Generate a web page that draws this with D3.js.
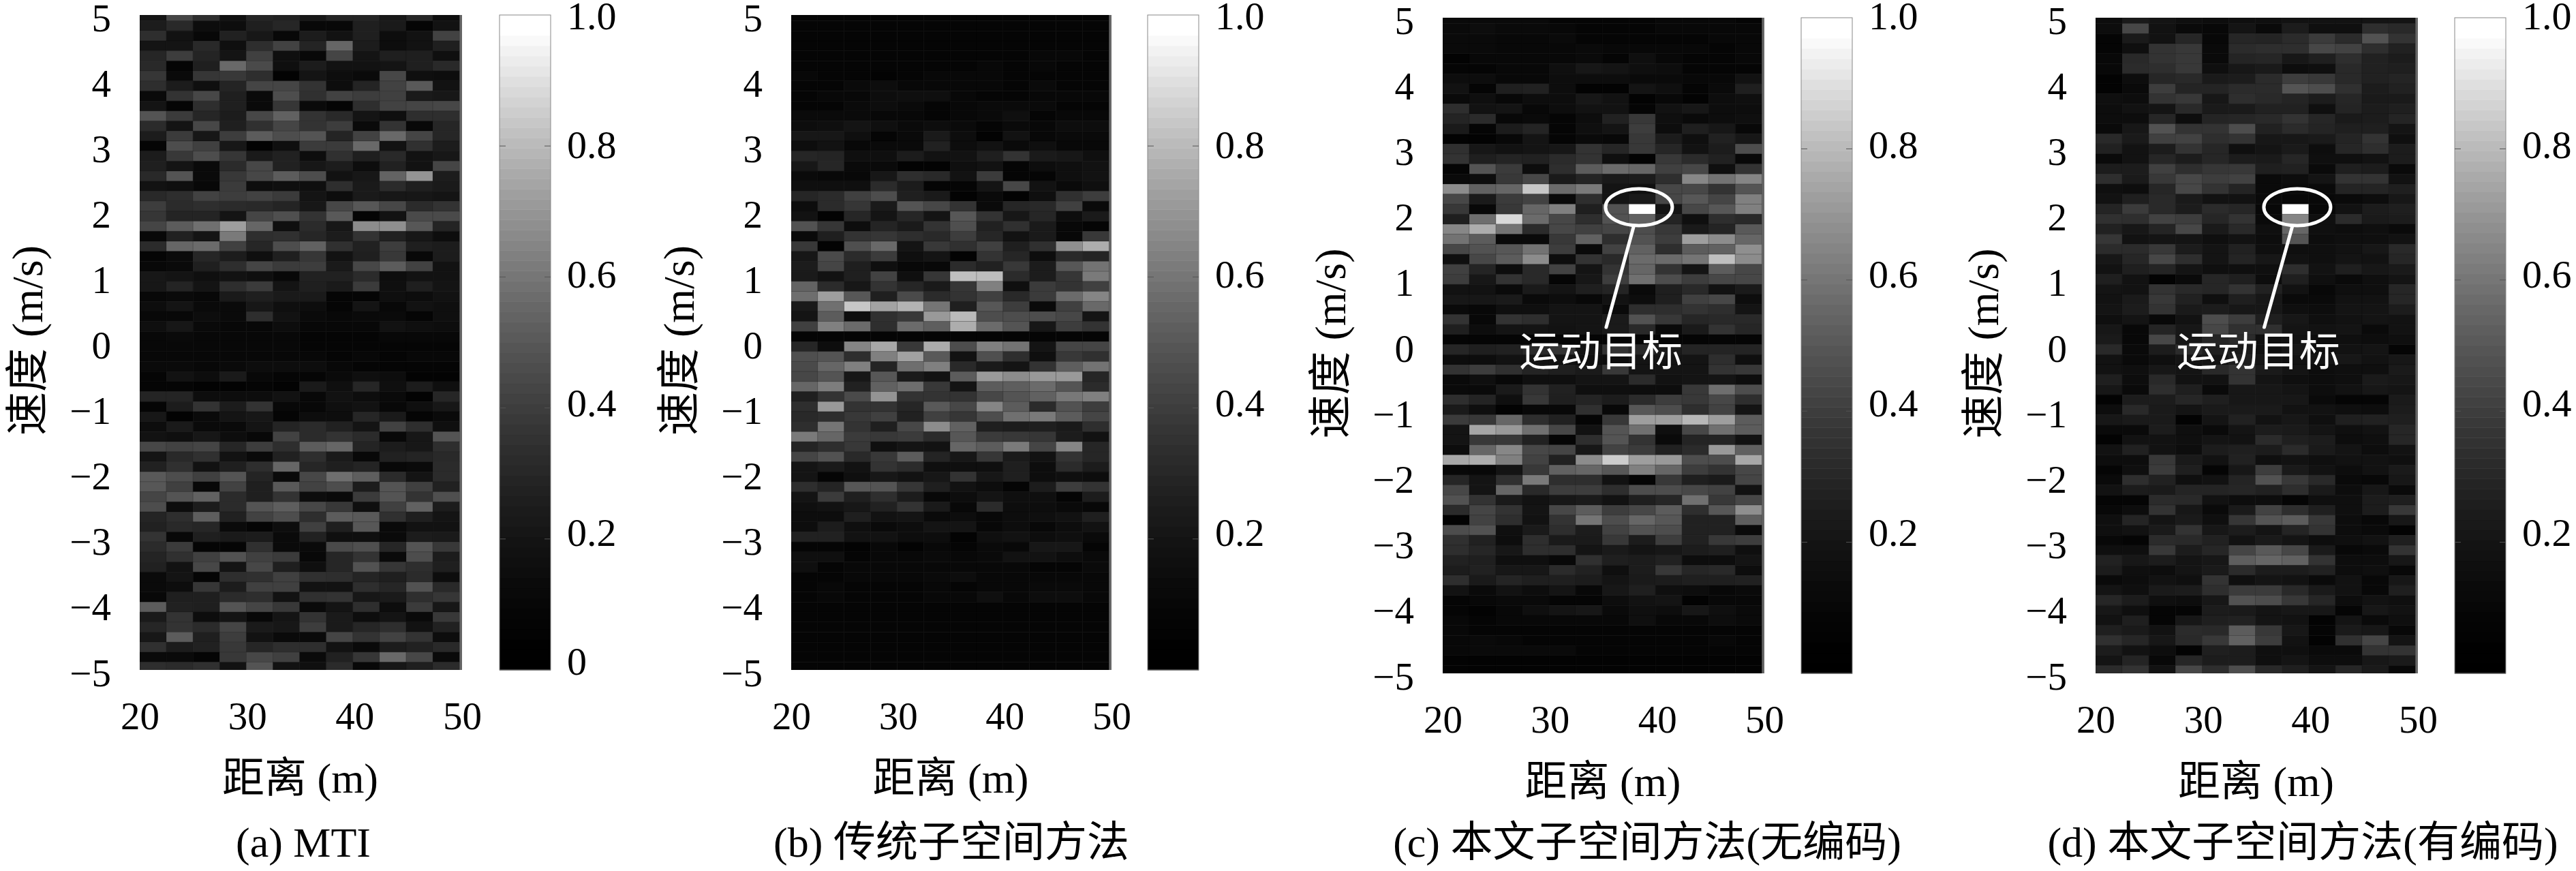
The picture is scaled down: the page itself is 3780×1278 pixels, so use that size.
<!DOCTYPE html>
<html>
<head>
<meta charset="utf-8">
<script src="https://cdn.jsdelivr.net/npm/d3@7"></script>
<style>
    body { margin: 0; background: #fff; }
    text { font-family: "Liberation Serif", "Noto Sans CJK SC", serif; fill: #000; }
</style>
</head>
<body>
<script>
// brightness of each cell in percent, top row first
const mtiRows = [
    [8,27,18,6,14,13,9,14,14,9,15,5],[11,16,5,5,12,15,3,3,12,10,2,7],[18,7,3,13,9,3,11,7,12,5,7,26],
    [8,8,16,6,18,26,14,40,11,5,7,12],[15,24,14,8,25,6,3,27,8,12,12,6],[16,2,12,41,29,6,11,7,7,8,12,16],
    [21,4,21,22,18,1,8,5,4,28,6,5],[18,11,6,14,27,27,20,5,14,26,35,7],[4,20,28,12,4,30,19,26,24,25,10,9],
    [8,2,18,12,4,21,4,2,18,26,27,28],[33,23,15,11,28,38,20,16,8,6,18,18],[17,8,28,12,19,27,20,24,4,20,3,15],
    [11,23,9,24,36,30,33,14,26,41,27,15],[2,30,25,9,1,6,23,23,41,7,19,11],[11,22,30,21,10,13,5,19,12,16,7,9],
    [12,8,4,17,28,13,9,11,5,13,7,27],[16,33,4,22,28,36,30,7,9,39,58,11],[7,6,3,23,5,6,6,18,10,17,12,10],
    [16,18,26,24,26,23,8,5,10,9,9,8],[24,17,18,17,16,14,9,28,34,28,17,20],[21,14,14,8,27,31,20,35,2,7,29,29],
    [27,36,44,62,40,6,17,9,55,56,34,14],[3,13,8,48,18,19,15,11,20,13,9,5],[17,40,42,25,15,30,38,19,13,24,12,11],
    [2,4,15,11,6,12,21,7,12,22,3,11],[3,4,12,18,27,23,24,10,28,36,26,7],[9,8,6,7,6,3,13,13,17,5,7,7],
    [9,14,8,18,23,8,12,10,23,6,12,8],[3,4,3,10,12,10,10,2,2,6,5,7],[5,8,4,4,9,6,5,2,8,3,7,6],
    [3,3,5,4,18,7,4,3,4,4,2,6],[6,9,4,3,3,5,3,3,3,7,6,5],[3,4,3,3,3,3,2,2,2,3,3,3],
    [3,3,3,3,3,3,2,2,2,2,2,2],[3,3,3,3,3,3,3,2,3,2,3,3],[4,4,3,4,5,5,5,3,2,2,2,2],
    [2,7,5,10,3,2,2,4,6,5,1,1],[2,2,1,1,2,1,10,6,15,6,11,6],[14,14,5,5,5,7,3,7,5,4,1,15],
    [2,11,20,11,20,3,3,6,7,3,6,9],[9,1,4,8,9,2,5,5,15,10,2,4],[5,10,4,4,8,14,17,13,8,26,18,6],
    [7,6,9,5,3,26,17,20,17,3,9,33],[28,26,27,15,24,18,36,40,14,11,9,18],[8,16,19,7,4,13,18,10,3,13,14,16],
    [13,19,7,12,18,40,15,12,14,3,4,17],[35,30,25,33,14,4,28,43,37,17,8,17],[34,25,3,26,12,35,26,30,11,33,25,13],
    [27,33,38,17,12,20,5,4,23,33,20,31],[30,5,11,17,33,37,28,22,6,25,38,11],[14,18,37,13,26,30,18,36,35,19,12,8],
    [13,16,15,4,2,5,25,12,34,4,7,7],[20,3,12,10,11,4,13,6,6,4,11,10],[17,23,2,2,19,4,4,29,31,15,33,22],
    [14,19,25,32,25,23,3,15,20,4,30,11],[13,7,28,8,28,12,6,15,32,21,18,12],[4,8,2,18,19,25,19,18,14,12,17,5],
    [4,5,21,11,25,25,7,7,18,15,32,16],[3,12,12,17,18,7,19,20,9,10,18,21],[36,13,12,33,27,22,4,8,18,5,23,9],
    [10,20,5,8,3,8,20,10,5,8,4,22],[15,20,17,27,10,9,24,10,15,18,7,13],[9,36,12,24,7,4,4,27,20,26,20,5],
    [19,11,13,22,15,18,18,7,4,11,13,16],[4,4,2,22,28,25,4,13,21,41,28,4],[18,17,19,7,33,7,6,17,3,9,12,17]
];

const traditionalRows = [
    [2,2,2,2,2,2,2,2,2,2,2,2],[2,2,2,2,2,2,2,2,2,2,2,2],[2,2,2,2,2,2,2,2,2,2,2,2],
    [2,2,2,2,2,2,2,2,2,2,2,2],[2,2,2,2,2,2,2,2,2,3,3,2],[2,2,2,2,2,2,2,3,2,3,2,2],
    [3,2,2,1,2,3,3,3,2,2,2,2],[2,2,4,5,3,3,3,3,2,4,2,2],[2,3,3,5,6,6,3,2,2,3,3,3],
    [2,2,4,5,4,2,3,4,4,4,2,2],[4,4,4,3,3,2,3,4,6,2,3,3],[5,6,8,6,4,5,4,2,4,3,5,5],
    [9,9,6,2,4,10,5,1,7,3,4,4],[5,7,3,4,4,13,5,7,4,6,3,3],[15,14,6,6,11,7,7,12,20,10,9,6],
    [9,15,4,4,1,1,6,7,2,5,6,7],[4,3,3,9,18,16,7,23,2,2,6,7],[6,6,6,17,11,2,2,8,28,7,4,6],
    [15,17,25,30,12,10,1,4,1,6,19,24],[5,17,21,10,33,28,20,4,15,16,25,4],[7,1,15,8,15,8,34,20,9,15,5,10],
    [32,21,5,14,10,20,31,13,19,10,3,2],[4,12,20,21,18,16,24,15,7,10,3,22],[22,1,31,41,8,22,19,25,12,19,56,68],
    [9,29,17,23,6,8,1,20,15,5,16,14],[11,27,12,6,3,3,17,13,22,11,34,45],[10,7,12,26,6,21,75,74,17,11,21,48],
    [39,17,9,20,15,10,21,50,6,23,20,25],[43,62,34,12,29,17,20,25,16,23,42,52],[10,44,78,64,70,46,12,34,24,4,25,41],
    [8,36,5,19,22,60,73,30,30,30,28,8],[25,50,42,18,42,37,68,42,33,9,24,20],[2,2,2,2,2,2,2,2,2,2,2,2],
    [15,5,52,66,22,67,30,50,45,8,27,27],[31,33,18,50,63,35,7,31,18,6,22,19],[29,40,50,14,43,50,16,10,8,20,37,45],
    [28,33,9,34,10,7,36,60,55,60,60,15],[40,49,13,38,43,22,8,36,37,42,33,17],[12,20,29,58,20,20,20,28,33,38,47,50],
    [18,60,20,20,15,35,28,52,36,17,32,24],[16,18,22,25,13,25,21,30,44,48,36,27],[18,46,20,12,28,55,38,12,11,12,10,18],
    [48,40,23,22,23,17,34,23,22,21,11,7],[14,18,22,6,8,7,40,36,48,27,52,15],[27,32,16,22,36,14,9,21,10,7,20,15],
    [8,10,7,20,17,6,6,6,12,5,17,11],[8,2,6,9,7,9,20,9,12,5,6,5],[18,14,34,33,21,12,7,5,2,11,24,20],
    [8,23,12,18,11,3,5,8,6,6,2,11],[6,7,9,13,20,10,3,17,5,5,4,3],[5,5,12,7,8,4,5,3,5,6,7,12],
    [5,11,6,4,5,8,8,3,5,3,5,7],[13,13,7,7,5,5,1,6,7,5,6,4],[2,2,1,3,1,3,2,4,3,9,9,2],
    [6,6,2,3,3,4,3,4,7,7,5,4],[6,2,3,3,3,3,3,3,3,2,2,4],[2,2,3,3,3,4,5,3,3,3,3,3],
    [2,3,2,2,2,3,2,3,3,4,4,3],[2,3,2,2,2,3,3,6,3,5,5,3],[2,2,2,2,2,2,2,2,2,2,2,2],
    [2,2,2,2,2,2,2,2,2,2,2,2],[2,2,2,2,2,2,2,2,2,2,2,2],[2,2,2,2,2,2,2,2,2,2,2,2],
    [2,2,2,2,2,2,2,2,2,2,2,2],[2,2,2,2,2,2,2,2,2,2,2,2],[2,2,2,2,2,2,2,2,2,2,2,2]
];

const uncodedRows = [
    [4,4,4,4,2,2,2,2,3,3,3,2],[4,5,4,4,3,2,2,2,3,3,3,3],[4,4,3,3,4,2,2,2,2,2,3,3],
    [4,4,3,3,3,4,3,3,3,3,2,3],[1,3,3,3,3,4,2,6,3,2,2,3],[2,2,3,3,6,9,8,6,5,2,2,2],
    [5,5,3,3,5,5,5,4,4,3,3,7],[7,2,12,13,5,1,1,8,6,2,4,12],[4,6,3,5,5,9,7,1,3,1,5,6],
    [18,7,8,3,5,7,7,2,7,9,5,5],[14,17,3,4,2,5,13,22,6,4,5,6],[10,2,11,14,2,6,8,24,5,12,9,3],
    [1,1,3,8,2,4,3,22,11,6,13,9],[19,9,7,8,9,20,15,22,15,7,11,30],[20,12,14,13,17,20,6,1,22,17,13,3],
    [2,33,23,5,18,36,42,40,25,28,6,20],[4,5,22,28,10,14,10,11,18,53,45,52],[55,38,40,78,42,48,8,6,28,28,20,33],
    [28,10,23,26,4,18,8,10,28,34,27,50],[22,3,22,40,50,12,32,100,8,28,34,50],[12,43,85,42,28,18,32,38,14,6,18,16],
    [53,68,45,17,28,25,27,30,22,10,14,35],[45,36,4,4,22,38,18,32,24,62,55,40],[28,32,34,45,24,4,26,38,18,36,38,56],
    [6,28,36,55,5,20,16,42,42,46,75,55],[25,14,5,16,26,8,20,40,20,8,36,28],[24,9,20,16,2,9,24,44,30,24,28,28],
    [7,7,4,10,8,12,14,4,12,16,7,10],[9,9,10,4,5,3,7,5,12,25,28,5],[4,3,6,6,8,8,4,18,18,20,18,8],
    [20,3,20,18,8,8,10,32,22,15,16,16],[12,5,8,8,7,8,10,16,4,10,20,15],[2,2,2,2,2,2,2,2,2,2,2,2],
    [15,12,13,16,20,8,20,16,10,14,14,14],[5,5,7,7,7,6,5,8,8,8,18,6],[20,24,19,14,12,10,22,8,8,8,20,22],
    [4,6,3,6,6,8,8,17,7,8,8,5],[4,4,10,20,13,6,6,5,5,22,43,30],[18,14,6,22,12,14,11,17,24,22,28,18],
    [10,6,1,3,3,19,3,34,30,18,26,8],[23,22,40,18,13,2,22,62,62,72,62,36],[8,65,60,44,28,7,33,44,6,28,44,36],
    [8,22,22,13,2,18,33,20,4,14,14,7],[5,40,53,28,27,9,26,23,13,17,60,38],[66,68,50,26,13,55,80,62,60,30,30,66],
    [3,3,8,22,38,40,34,50,40,24,20,28],[15,8,19,48,18,18,7,2,22,12,10,27],[28,8,40,16,24,24,18,30,30,28,26,7],
    [32,20,10,7,9,10,7,12,15,44,22,28],[17,27,20,8,28,36,24,28,36,18,34,56],[1,26,18,7,20,46,30,40,34,13,13,37],
    [30,32,6,10,18,11,26,32,30,13,13,4],[19,13,5,18,10,10,22,11,24,13,22,24],[18,15,9,18,18,8,10,8,9,11,12,6],
    [13,12,6,6,3,19,12,11,13,5,5,8],[11,13,9,9,17,13,6,11,22,15,16,5],[18,10,14,12,12,11,8,10,11,12,12,13],
    [7,4,7,5,8,3,9,12,6,5,3,4],[2,3,4,4,2,2,5,7,8,1,3,3],[2,1,3,6,8,9,4,6,5,9,6,4],
    [3,2,3,3,3,3,3,6,3,3,5,4],[3,2,2,2,2,2,2,2,2,2,2,2],[3,4,3,2,2,2,2,2,2,2,3,2],
    [3,4,4,4,4,2,2,2,2,2,2,2],[1,1,1,1,1,1,1,1,1,1,1,1],[1,1,1,1,1,1,1,1,1,1,1,1]
];

const codedRows = [
    [5,10,8,6,5,6,6,7,7,7,8,8],[5,28,7,4,3,8,4,11,6,6,18,16],[2,10,7,15,3,15,14,17,23,17,32,20],
    [2,6,20,22,4,17,18,18,28,26,18,13],[3,16,20,22,4,14,15,9,12,18,13,11],[3,17,18,22,6,9,10,5,6,16,13,12],
    [1,5,15,16,10,11,17,24,22,16,13,14],[1,4,24,14,14,17,17,33,30,19,11,13],[6,5,20,22,9,18,16,14,11,15,10,10],
    [5,7,8,16,10,10,13,13,6,14,11,12],[5,5,15,5,14,15,16,20,15,10,11,14],[4,9,32,20,20,30,13,17,14,12,12,8],
    [16,10,25,26,18,20,9,9,10,14,20,6],[13,7,11,20,15,6,8,10,5,15,18,11],[4,7,15,11,15,11,10,15,6,6,7,11],
    [11,11,25,18,21,22,12,13,4,12,11,4],[18,10,22,28,24,26,4,5,8,20,20,7],[6,5,15,28,20,14,4,4,4,14,14,12],
    [7,12,16,10,7,7,4,3,3,4,5,9],[14,23,16,11,17,15,3,100,3,7,11,12],[19,18,26,24,15,20,4,52,6,17,10,11],
    [13,9,14,28,10,16,6,40,6,5,6,4],[21,7,8,8,6,7,5,33,5,6,6,7],[17,17,22,11,8,13,6,6,6,7,9,16],
    [9,15,28,18,8,14,9,7,6,8,7,15],[7,12,14,8,6,6,6,18,7,12,9,10],[12,7,1,4,15,12,5,12,6,4,6,8],
    [8,7,20,16,15,20,13,7,3,6,6,15],[7,10,22,13,6,12,9,4,4,7,7,15],[8,11,20,10,11,9,9,6,5,8,8,11],
    [6,8,3,7,30,24,12,9,6,7,8,7],[9,3,14,9,28,19,19,8,7,8,4,7],[10,3,28,9,15,17,6,7,5,6,5,6],
    [16,4,11,17,12,10,6,9,6,7,8,2],[7,4,6,8,8,12,8,7,8,9,7,9],[7,6,9,8,16,20,10,8,5,6,6,10],
    [12,5,16,7,7,20,8,6,5,6,10,9],[9,4,18,12,4,9,9,8,5,7,9,8],[1,11,11,15,12,9,9,9,4,2,2,10],
    [5,16,10,8,10,10,10,7,7,6,5,11],[9,10,10,1,8,13,7,9,6,12,13,12],[4,4,11,6,4,8,11,10,8,6,7,15],
    [1,7,7,6,8,7,17,12,11,5,6,15],[7,13,7,5,11,12,11,17,10,8,5,7],[5,5,22,10,7,13,6,7,6,7,7,6],
    [2,6,23,12,2,9,24,10,7,5,7,10],[4,18,13,6,7,14,32,22,16,4,3,9],[7,11,10,14,14,15,13,18,10,5,9,4],
    [2,2,17,16,7,5,5,2,6,6,11,12],[3,5,20,9,4,10,26,18,12,6,11,22],[6,14,8,10,6,21,33,36,22,5,3,9],
    [6,7,10,20,9,11,8,14,20,5,4,1],[3,2,17,16,13,7,10,8,5,6,7,12],[6,6,22,11,15,27,35,28,10,3,4,20],
    [13,9,11,8,9,37,40,38,20,5,5,9],[11,6,5,8,10,17,11,11,13,5,6,3],[4,5,7,6,20,6,8,7,4,7,3,9],
    [8,6,10,11,18,23,23,16,10,7,3,12],[15,11,6,5,9,32,30,22,15,5,7,6],[9,6,2,2,11,10,8,9,9,2,9,7],
    [7,12,2,9,12,13,8,7,1,8,4,6],[12,10,7,17,16,36,22,9,2,10,9,3],[19,15,9,16,22,38,24,7,1,19,27,8],
    [11,7,5,1,12,11,6,6,4,4,20,20],[8,14,3,15,11,11,6,8,5,5,9,10],[17,20,7,28,18,30,16,12,8,15,10,3]
];

const xTicks = [20, 30, 40, 50];
const yTicks = [5, 4, 3, 2, 1, 0, -1, -2, -3, -4, -5];
const barTicksFull = [0, 0.2, 0.4, 0.6, 0.8, 1.0];
const barTicksNoZero = [0.2, 0.4, 0.6, 0.8, 1.0];

const xLabel = "距离 (m)";
const yLabel = "速度 (m/s)";
const targetLabel = "运动目标";

// cell size in data units
const rangeStep = 2.48;
const speedStep = 0.153;
const firstRowTop = 5.064;

const panels = [
    { rows: mtiRows, caption: "(a) MTI", left: 205, right: 678, top: 22, bottom: 983, barLeft: 733, barTicks: barTicksFull, captionX: 445 },
    { rows: traditionalRows, caption: "(b) 传统子空间方法", left: 1161, right: 1631, top: 22, bottom: 983, barLeft: 1684, barTicks: barTicksNoZero, captionX: 1396 },
    { rows: uncodedRows, caption: "(c) 本文子空间方法(无编码)", left: 2117, right: 2589, top: 26, bottom: 988, barLeft: 2643, barTicks: barTicksNoZero, captionX: 2417,
      target: { ellipse: [38.3, 2.11], line: [[37.8, 1.81], [35.25, 0.28]], label: [34.75, -0.08] } },
    { rows: codedRows, caption: "(d) 本文子空间方法(有编码)", left: 3075, right: 3548, top: 26, bottom: 988, barLeft: 3602, barTicks: barTicksNoZero, captionX: 3379,
      target: { ellipse: [38.77, 2.11], line: [[38.3, 1.81], [35.7, 0.28]], label: [35.15, -0.08] } }
];

const svg = d3.select("body").append("svg")
    .attr("width", 3780)
    .attr("height", 1278);

const gray = d3.scaleLinear().domain([0, 1]).range(["#000", "#fff"]).clamp(true);
// the colour bar is not linear in brightness, tops out before 1.0
const barGray = v => gray(Math.pow(v, 1.6) * 1.04);

panels.forEach((p, idx) => {
    const x = d3.scaleLinear().domain([20, 50]).range([p.left, p.right]);
    const y = d3.scaleLinear().domain([-5, 5]).range([p.bottom, p.top]);

    const clipId = "clip" + idx;
    svg.append("clipPath").attr("id", clipId)
        .append("rect")
        .attr("x", p.left).attr("y", p.top)
        .attr("width", p.right - p.left).attr("height", p.bottom - p.top);

    const g = svg.append("g");

    g.append("rect")
        .attr("x", p.left).attr("y", p.top)
        .attr("width", p.right - p.left).attr("height", p.bottom - p.top)
        .attr("fill", "#666");

    // cells
    const cells = [];
    p.rows.forEach((row, r) => row.forEach((b, c) => cells.push({ r, c, b })));

    g.append("g")
        .attr("clip-path", `url(#${clipId})`)
        .selectAll("rect")
        .data(cells)
        .enter()
        .append("rect")
        .attr("x", d => x(20 + d.c * rangeStep))
        .attr("y", d => y(firstRowTop - d.r * speedStep))
        .attr("width", x(20 + rangeStep) - x(20))
        .attr("height", y(0) - y(speedStep))
        .attr("fill", d => gray(d.b / 100))
        .attr("stroke", "#000")
        .attr("stroke-opacity", 0.2)
        .attr("stroke-width", 0.8);

    // axes
    const xAxis = g.append("g")
        .attr("transform", `translate(0,${p.bottom})`)
        .call(d3.axisBottom(x).tickValues(xTicks).tickSize(0));
    xAxis.select(".domain").remove();
    xAxis.selectAll("text")
        .attr("y", 87).attr("dy", 0)
        .style("font-size", "57px");

    const yAxis = g.append("g")
        .attr("transform", `translate(${p.left},0)`)
        .call(d3.axisLeft(y).tickValues(yTicks).tickSize(0)
            .tickFormat(d => d < 0 ? "\u2212" + Math.abs(d) : d));
    yAxis.select(".domain").remove();
    yAxis.selectAll("text")
        .attr("x", -42).attr("dy", 23)
        .style("font-size", "57px");

    g.append("text")
        .attr("x", (p.left + p.right) / 2 - 1)
        .attr("y", p.bottom + 180)
        .attr("text-anchor", "middle")
        .style("font-size", "62px")
        .text(xLabel);

    g.append("text")
        .attr("transform", `translate(${p.left - 143},${(p.top + p.bottom) / 2 - 3}) rotate(-90)`)
        .attr("text-anchor", "middle")
        .style("font-size", "64px")
        .text(yLabel);

    g.append("text")
        .attr("x", p.captionX)
        .attr("y", 1257)
        .attr("text-anchor", "middle")
        .style("font-size", "62px")
        .text(p.caption);

    // colour bar
    const barWidth = 75;
    const barY = d3.scaleLinear().domain([0, 1]).range([p.bottom, p.top]);
    const labelY = d3.scaleLinear().domain([0, 1]).range([972, 25]);
    const bands = d3.range(64);

    g.append("g")
        .selectAll("rect")
        .data(bands)
        .enter()
        .append("rect")
        .attr("x", p.barLeft)
        .attr("y", d => barY((d + 1) / 64))
        .attr("width", barWidth)
        .attr("height", barY(0) - barY(1 / 64) + 0.5)
        .attr("fill", d => barGray((d + 0.5) / 64));

    g.append("rect")
        .attr("x", p.barLeft).attr("y", p.top)
        .attr("width", barWidth).attr("height", p.bottom - p.top)
        .attr("fill", "none")
        .attr("stroke", "#888")
        .attr("stroke-width", 1);

    const innerTicks = p.barTicks.filter(v => v > 0 && v < 1);
    [[0, 9], [barWidth, barWidth - 9]].forEach(([a, b]) => {
        g.append("g")
            .selectAll("line")
            .data(innerTicks)
            .enter()
            .append("line")
            .attr("x1", p.barLeft + a).attr("x2", p.barLeft + b)
            .attr("y1", d => barY(d)).attr("y2", d => barY(d))
            .attr("stroke", "#555")
            .attr("stroke-width", 1);
    });

    g.append("g")
        .selectAll("text")
        .data(p.barTicks)
        .enter()
        .append("text")
        .attr("x", p.barLeft + barWidth + 24)
        .attr("y", d => labelY(d) + 18)
        .style("font-size", "58px")
        .text(d => d === 0 ? "0" : d.toFixed(1));

    // moving target marker
    if (p.target) {
        const t = p.target;
        g.append("ellipse")
            .attr("cx", x(t.ellipse[0])).attr("cy", y(t.ellipse[1]))
            .attr("rx", 49).attr("ry", 27)
            .attr("fill", "none").attr("stroke", "#fff").attr("stroke-width", 5);
        g.append("line")
            .attr("x1", x(t.line[0][0])).attr("y1", y(t.line[0][1]))
            .attr("x2", x(t.line[1][0])).attr("y2", y(t.line[1][1]))
            .attr("stroke", "#fff").attr("stroke-width", 5).attr("stroke-linecap", "round");
        g.append("text")
            .attr("x", x(t.label[0])).attr("y", y(t.label[1]) + 22)
            .attr("text-anchor", "middle")
            .style("font-size", "60px")
            .style("fill", "#fff")
            .text(targetLabel);
    }
});
</script>
</body>
</html>
